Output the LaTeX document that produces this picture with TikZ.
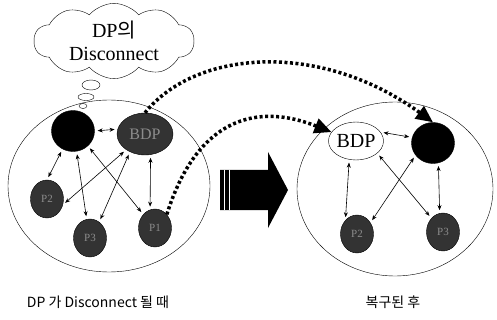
\documentclass[tikz,border=0pt]{standalone}
\usepackage{fontspec}
\setmainfont{Liberation Serif}
\newfontfamily\krfont{Noto Sans CJK KR}
\usetikzlibrary{arrows.meta,shapes.geometric,shapes.symbols}
\begin{document}
\begin{tikzpicture}[x=1pt, y=-1pt, line join=round,
  dpnode/.style={ellipse, draw, fill=black, inner sep=0pt, minimum width=43pt, minimum height=41pt},
  pnode/.style={ellipse, draw, fill=black!80, text=black!45, inner sep=0pt, minimum width=33pt, minimum height=38pt, font=\fontsize{11}{11}\selectfont},
  bdpnode/.style={ellipse, draw, inner sep=0pt, minimum width=55pt, minimum height=38pt},
  link/.style={{Stealth[length=5pt,width=4pt]}-{Stealth[length=5pt,width=4pt]}, line width=0.6pt, shorten <=3pt, shorten >=3pt},
  move/.style={line width=3.5pt, dash pattern=on 3pt off 2.5pt, -{Triangle[length=17pt,width=15pt]}},
  caption/.style={font=\krfont\fontsize{14}{14}\selectfont}]
\useasboundingbox (0,0) rectangle (497,320);
% thought cloud
\node[cloud, draw, cloud puffs=10, cloud puff arc=100, aspect=2.7, minimum width=160pt, minimum height=64pt, inner sep=0pt, align=center, font=\fontsize{20}{23}\selectfont] (thought) at (114,41) {DP{\krfont 의}\\Disconnect};
\draw (91,85) ellipse [x radius=9pt, y radius=5pt];
\draw (86,97) ellipse [x radius=8pt, y radius=3.5pt];
\draw (83,106) ellipse [x radius=4pt, y radius=2.5pt];
% groups
\draw (109,186) ellipse [x radius=101pt, y radius=86pt];
\draw (395,189) ellipse [x radius=98pt, y radius=87pt];
% before
\node[dpnode] (dpL) at (73,131) {};
\node[bdpnode, fill=black!80, text=black!45, minimum width=56pt, minimum height=42pt, font=\fontsize{16}{16}\selectfont] (bdpL) at (145,134) {BDP};
\node[pnode] (pL1) at (47,199) {P2};
\node[pnode] (pL2) at (90,238) {P3};
\node[pnode] (pL3) at (155,228) {P1};
\draw[link] (dpL.east) -- (bdpL.170);
\draw[link] (dpL.-120) -- (pL1.north);
\draw[link] (dpL.-80) -- (pL2.100);
\draw[link] (dpL.-45) -- (pL3.north west);
\draw[link] (bdpL.-140) -- (pL1.-20);
\draw[link] (bdpL.-130) -- (pL2.60);
\draw[link] (bdpL.-75) -- (pL3.105);
% after
\node[bdpnode, fill=white, font=\fontsize{20}{20}\selectfont] (bdpR) at (356,141) {BDP};
\node[dpnode] (dpR) at (433,143) {};
\node[pnode] (pR2) at (357,234) {P2};
\node[pnode] (pR3) at (443,232) {P3};
\draw[link] (bdpR.20) -- (dpR.165);
\draw[link] (bdpR.-110) -- (pR2.130);
\draw[link] (bdpR.-30) -- (pR3.130);
\draw[link] (dpR.-145) -- (pR2.40);
\draw[link] (dpR.-75) -- (pR3.100);
% block arrow
\fill (220,170) -- (268,170) -- (268,152) -- (288,190) -- (268,228) -- (268,210) -- (220,210) -- cycle;
\draw[white, line width=0.7pt] (224,170) -- (224,210) (229,170) -- (229,210);
% role changes
\draw[move] (bdpL.north) .. controls (195,50) and (320,40) .. (dpR.north);
\draw[move] (pL3.north east) .. controls (195,125) and (250,100) .. (bdpR.160);
% captions
\node[caption] (capL) at (98,302) {DP 가 Disconnect 될 때};
\node[caption] (capR) at (393,302) {복구된 후};
\end{tikzpicture}
\end{document}
